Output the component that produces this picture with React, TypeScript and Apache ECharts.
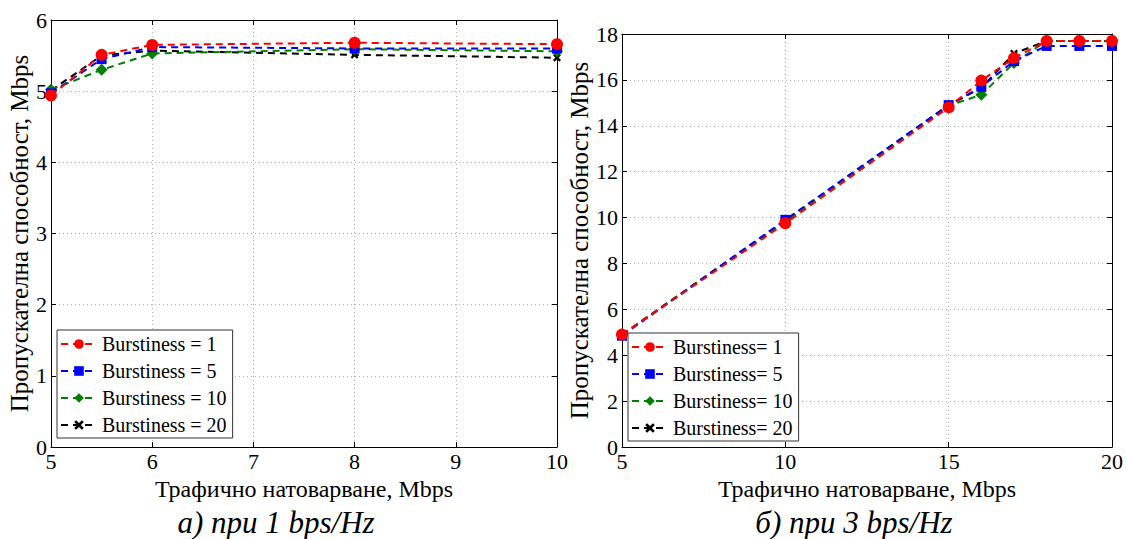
import React, { useEffect, useRef } from "react";
import * as echarts from "echarts";

const xLeft = [5, 5.5, 6, 8, 10];
const leftB1 = [4.94, 5.51, 5.65, 5.68, 5.66];
const leftB5 = [4.97, 5.45, 5.62, 5.6, 5.6];
const leftB10 = [5.02, 5.3, 5.53, 5.59, 5.56];
const leftB20 = [5.01, 5.5, 5.57, 5.51, 5.47];

const xRight = [5, 10, 15, 16, 17, 18, 19, 20];
const rightB1 = [4.9, 9.75, 14.8, 15.97, 16.95, 17.7, 17.7, 17.7];
const rightB5 = [4.85, 9.9, 14.9, 15.7, 16.82, 17.48, 17.48, 17.48];
const rightB10 = [4.9, 9.85, 14.88, 15.35, 16.74, 17.7, 17.7, 17.7];
const rightB20 = [4.9, 9.85, 14.9, 15.65, 17.15, 17.7, 17.7, 17.7];

const leftNames = ["Burstiness = 1", "Burstiness = 5", "Burstiness = 10", "Burstiness = 20"];
const rightNames = ["Burstiness= 1", "Burstiness= 5", "Burstiness= 10", "Burstiness= 20"];
const xAxisName = "Трафично натоварване, Mbps";
const yAxisName = "Пропускателна способност, Mbps";
const captionLeft = "а) при 1 bps/Hz";
const captionRight = "б) при 3 bps/Hz";

const colors = ["#ff0000", "#0000ff", "#008000", "#000000"];
const crossPath =
  "path://M0,2 L2,0 L5,3 L8,0 L10,2 L7,5 L10,8 L8,10 L5,7 L2,10 L0,8 L3,5Z";
const symbols = ["circle", "rect", "diamond", crossPath];
const symbolSizes = [12, 10, 12, 8];

const FONT = "Liberation Serif";

export default function App() {
  const ref = useRef<HTMLDivElement>(null);
  useEffect(() => {
    document.body.style.margin = "0";
    const chart = echarts.init(ref.current!, null, { renderer: "svg" });
    const mk = (name: string, idx: number, xs: number[], ys: number[], axisIdx: number) => ({
      type: "line",
      name,
      xAxisIndex: axisIdx,
      yAxisIndex: axisIdx,
      data: xs.map((x, i) => [x, ys[i]]),
      symbol: symbols[idx],
      symbolSize: symbolSizes[idx],
      showAllSymbol: true,
      color: colors[idx],
      lineStyle: { color: colors[idx], width: 2, type: [7, 5] },
      itemStyle: { color: colors[idx] },
      z: 10 - idx,
    });
    const axisCommon = {
      axisLine: { show: true, onZero: false, lineStyle: { color: "#000", width: 1 } },
      axisTick: { show: true, inside: true, length: 5, lineStyle: { color: "#000" } },
      axisLabel: { color: "#000", fontFamily: FONT, fontSize: 22 },
      splitLine: { show: true, lineStyle: { color: "#b0b0b0", type: [1, 3], width: 1 } },
    };
    const mirror = {
      axisLine: { show: true, onZero: false, lineStyle: { color: "#000", width: 1 } },
      axisTick: { show: true, inside: true, length: 5, lineStyle: { color: "#000" } },
      axisLabel: { show: false },
      splitLine: { show: false },
    };
    const nameStyleX = { color: "#000", fontFamily: FONT, fontSize: 24 };
    const nameStyleY = { color: "#000", fontFamily: FONT, fontSize: 25 };
    const legendCommon = {
      orient: "vertical" as const,
      backgroundColor: "#fff",
      borderColor: "#333",
      borderWidth: 1,
      borderRadius: 0,
      padding: [4, 6, 3, 3],
      itemGap: 7,
      itemWidth: 36,
      itemHeight: 12,
      textStyle: { color: "#000", fontFamily: FONT, fontSize: 20 },
    };
    chart.setOption({
      animation: false,
      textStyle: { fontFamily: FONT },
      grid: [
        { left: 51, top: 20, width: 506, height: 427, show: false },
        { left: 622, top: 34, width: 495, height: 413, show: false },
      ],
      xAxis: [
        {
          ...axisCommon,
          type: "value",
          gridIndex: 0,
          min: 5,
          max: 10,
          interval: 1,
          name: xAxisName,
          nameLocation: "middle",
          nameGap: 27,
          nameTextStyle: nameStyleX,
          axisLabel: { ...axisCommon.axisLabel, margin: 3 },
        },
        {
          ...axisCommon,
          type: "value",
          gridIndex: 1,
          min: 5,
          max: 20,
          interval: 5,
          name: xAxisName,
          nameLocation: "middle",
          nameGap: 27,
          nameTextStyle: nameStyleX,
          axisLabel: { ...axisCommon.axisLabel, margin: 3 },
        },
        { ...mirror, type: "value", gridIndex: 0, position: "top", min: 5, max: 10, interval: 1 },
        { ...mirror, type: "value", gridIndex: 1, position: "top", min: 5, max: 20, interval: 5 },
      ],
      yAxis: [
        {
          ...axisCommon,
          type: "value",
          gridIndex: 0,
          min: 0,
          max: 6,
          interval: 1,
          name: yAxisName,
          nameLocation: "middle",
          nameGap: 18,
          nameTextStyle: nameStyleY,
          axisLabel: { ...axisCommon.axisLabel, margin: 4 },
        },
        {
          ...axisCommon,
          type: "value",
          gridIndex: 1,
          min: 0,
          max: 18,
          interval: 2,
          name: yAxisName,
          nameLocation: "middle",
          nameGap: 27,
          nameTextStyle: nameStyleY,
          axisLabel: { ...axisCommon.axisLabel, margin: 4 },
        },
        { ...mirror, type: "value", gridIndex: 0, position: "right", min: 0, max: 6, interval: 1 },
        { ...mirror, type: "value", gridIndex: 1, position: "right", min: 0, max: 18, interval: 2 },
      ],
      legend: [
        { ...legendCommon, left: 57, top: 330, data: leftNames },
        { ...legendCommon, left: 628, top: 333, data: rightNames },
      ],
      graphic: [
        {
          type: "text",
          x: 276,
          y: 522,
          style: {
            text: captionLeft,
            font: "italic 31px 'Liberation Serif'",
            fill: "#000",
            align: "center",
            verticalAlign: "middle",
          },
        },
        {
          type: "text",
          x: 854,
          y: 522,
          style: {
            text: captionRight,
            font: "italic 31px 'Liberation Serif'",
            fill: "#000",
            align: "center",
            verticalAlign: "middle",
          },
        },
      ],
      series: [
        mk(leftNames[0], 0, xLeft, leftB1, 0),
        mk(leftNames[1], 1, xLeft, leftB5, 0),
        mk(leftNames[2], 2, xLeft, leftB10, 0),
        mk(leftNames[3], 3, xLeft, leftB20, 0),
        mk(rightNames[0], 0, xRight, rightB1, 1),
        mk(rightNames[1], 1, xRight, rightB5, 1),
        mk(rightNames[2], 2, xRight, rightB10, 1),
        mk(rightNames[3], 3, xRight, rightB20, 1),
      ],
    });
    return () => chart.dispose();
  }, []);
  return (
    <div
      ref={ref}
      style={{ position: "absolute", left: 0, top: 0, width: 1126, height: 539, background: "#fff" }}
    />
  );
}
